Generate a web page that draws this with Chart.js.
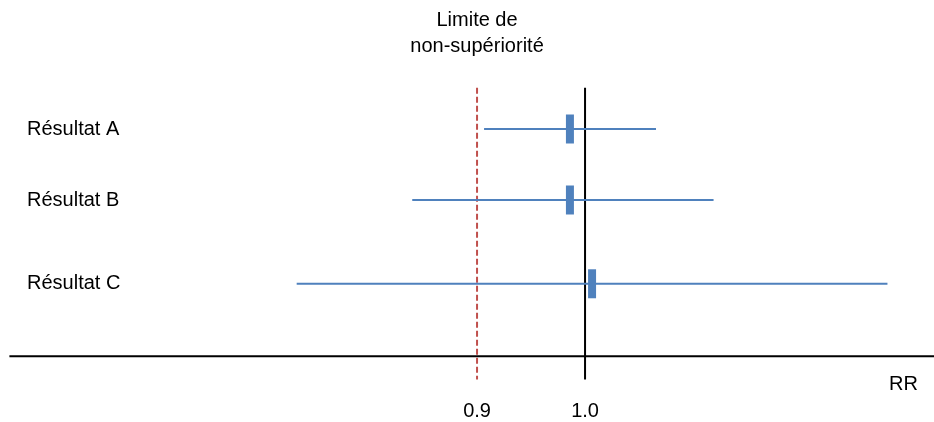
<!DOCTYPE html>
<html>
<head>
<meta charset="utf-8">
<script src="https://cdn.jsdelivr.net/npm/chart.js@4/dist/chart.umd.min.js"></script>
<style>
  html, body { margin: 0; padding: 0; background: #fff; }
</style>
</head>
<body>
<canvas id="chartRR" width="934" height="422"></canvas>
<script>
// données
var resultats = ['Résultat A', 'Résultat B', 'Résultat C'];
var rangs = [1, 2, 3.18];
var rrPoint = [0.986, 0.986, 1.0065];
var icBas = [0.9065, 0.840, 0.733];
var icHaut = [1.0657, 1.119, 1.280];
var limite = 0.9;
var reference = 1.0;
var ticksX = [0.9, 1.0];
var titreLimite = ['Limite de', 'non-supériorité'];
var titreAxe = 'RR';

(function () {
    var BLEU = '#4f81bd';
    var ROUGE = '#c0504d';
    var POLICE = '"Liberation Sans", Arial, sans-serif';

    var yAxe = 4.2;
    var yHaut = 0.42;
    var yBas = 4.53;

    var datasets = [];

    // axe horizontal
    datasets.push({
        data: [{ x: 0.467, y: yAxe }, { x: 1.33, y: yAxe }],
        borderColor: '#000', borderWidth: 2, pointRadius: 0, showLine: true, order: 5
    });
    // ligne de référence 1.0
    datasets.push({
        data: [{ x: reference, y: yHaut }, { x: reference, y: yBas }],
        borderColor: '#000', borderWidth: 2, pointRadius: 0, showLine: true, order: 4
    });
    // limite de non-supériorité
    datasets.push({
        data: [{ x: limite, y: yHaut }, { x: limite, y: yBas }],
        borderColor: ROUGE, borderWidth: 2, borderDash: [6, 3], pointRadius: 0, showLine: true, order: 4
    });

    // intervalles de confiance
    resultats.forEach(function (r, i) {
        datasets.push({
            label: r,
            data: [{ x: icBas[i], y: rangs[i] }, { x: icHaut[i], y: rangs[i] }],
            borderColor: BLEU, borderWidth: 2, pointRadius: 0, showLine: true, order: 3
        });
    });

    // estimations ponctuelles
    datasets.push({
        data: resultats.map(function (r, i) { return { x: rrPoint[i], y: rangs[i] }; }),
        showLine: false,
        pointStyle: 'line',
        pointRotation: 90,
        pointRadius: 14.5,
        pointHoverRadius: 14.5,
        pointBorderWidth: 8,
        pointBorderColor: BLEU,
        pointBackgroundColor: BLEU,
        order: 1
    });

    var textes = {
        id: 'textes',
        afterDraw: function (chart) {
            var ctx = chart.ctx;
            var sx = chart.scales.x;
            var sy = chart.scales.y;
            ctx.save();
            ctx.fillStyle = '#000';
            ctx.font = '20px ' + POLICE;
            ctx.textBaseline = 'middle';

            ctx.textAlign = 'left';
            resultats.forEach(function (r, i) {
                ctx.fillText(r, 27, sy.getPixelForValue(rangs[i]));
            });

            ctx.textAlign = 'center';
            var xl = sx.getPixelForValue(limite);
            ctx.fillText(titreLimite[0], xl, 20);
            ctx.fillText(titreLimite[1], xl, 46);

            ticksX.forEach(function (t) {
                ctx.fillText(t.toFixed(1), sx.getPixelForValue(t), 411);
            });

            ctx.textAlign = 'right';
            ctx.fillText(titreAxe, 918, 384);
            ctx.restore();
        }
    };

    new Chart(document.getElementById('chartRR'), {
        type: 'scatter',
        data: { datasets: datasets },
        options: {
            responsive: false,
            animation: false,
            devicePixelRatio: 1,
            layout: { padding: 0, autoPadding: false },
            plugins: { legend: { display: false }, tooltip: { enabled: false } },
            scales: {
                x: { type: 'linear', display: false, min: 0.4583, max: 1.3231 },
                y: { type: 'linear', display: false, reverse: true, min: -0.817, max: 5.127 }
            }
        },
        plugins: [textes]
    });
})();
</script>
</body>
</html>
